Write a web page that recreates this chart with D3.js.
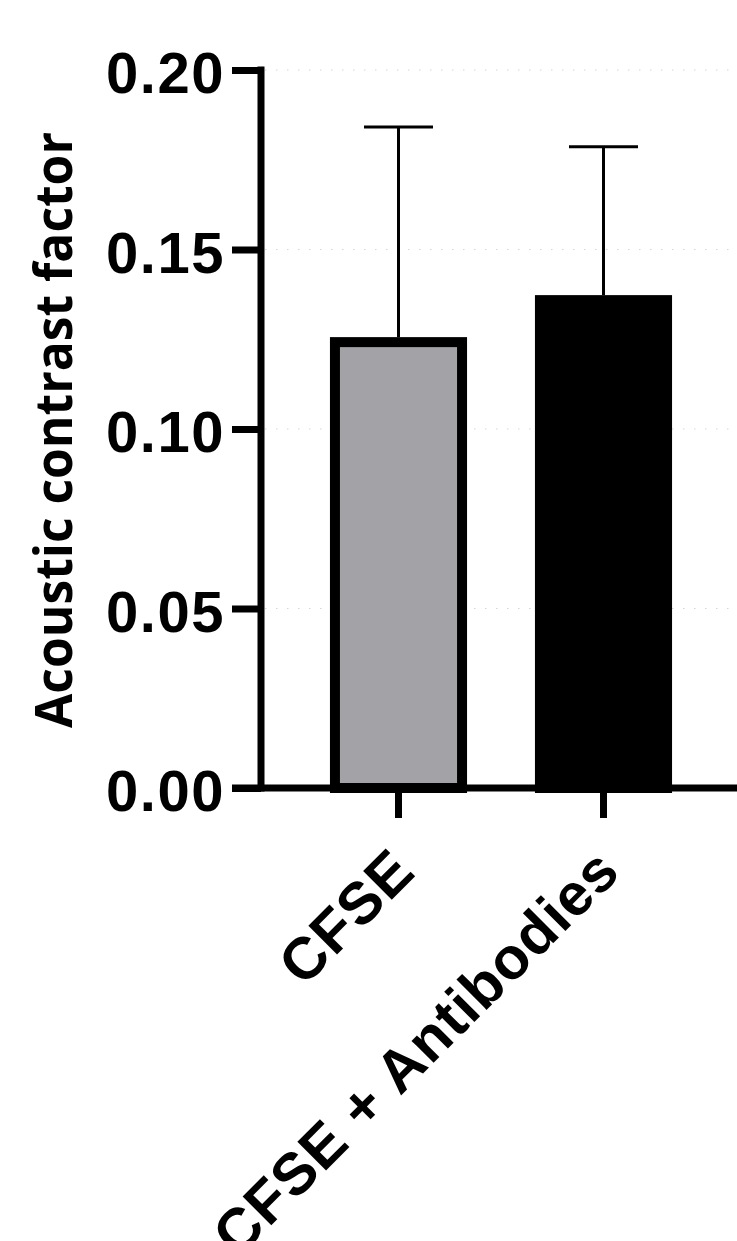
<!DOCTYPE html>
<html>
<head>
<meta charset="utf-8">
<script src="https://cdn.jsdelivr.net/npm/d3@7"></script>
<style>
  body { margin: 0; background: #fff; }
  svg { display: block; }
</style>
</head>
<body>
<div class="container"></div>
<script>
var categories = ['CFSE', 'CFSE + Antibodies'];
var means = [0.1242, 0.1359];
var sds = [0.0599, 0.0427];
var fills = ['#a3a2a7', '#000000'];
var yTicks = [0.00, 0.05, 0.10, 0.15, 0.20];

var w = 737;
var h = 1241;

var data = categories.map(function(c, i) {
  return { name: c, mean: means[i], sd: sds[i], fill: fills[i] };
});

var svg = d3.select('.container')
  .append('svg')
  .attr('width', w)
  .attr('height', h);

var yScale = d3.scaleLinear()
  .domain([0, 0.2])
  .range([788, 70]);

var xScale = d3.scaleBand()
  .domain(categories)
  .range([296, 706])
  .padding(0);

var axisX = 261;
var tickLen = 29;

/* faint dotted gridlines */
svg.append('g')
  .selectAll('line')
  .data(yTicks.slice(1))
  .enter()
  .append('line')
  .attr('x1', axisX + 4)
  .attr('x2', w)
  .attr('y1', function(d) { return yScale(d); })
  .attr('y2', function(d) { return yScale(d); })
  .attr('stroke', '#d6d6d6')
  .attr('stroke-width', 1.2)
  .attr('stroke-dasharray', '1.5,9.5');

/* bars */
var barW = xScale.bandwidth() * 0.62;

svg.append('g')
  .selectAll('rect')
  .data(data)
  .enter()
  .append('rect')
  .attr('x', function(d) { return xScale(d.name) + xScale.bandwidth() / 2 - barW / 2; })
  .attr('y', function(d) { return yScale(d.mean); })
  .attr('width', barW)
  .attr('height', function(d) { return yScale(0) - yScale(d.mean); })
  .attr('fill', function(d) { return d.fill; })
  .attr('stroke', '#000')
  .attr('stroke-width', 10);

/* error bars (upper only) */
var capW = 69;
var err = svg.append('g')
  .selectAll('g')
  .data(data)
  .enter()
  .append('g')
  .attr('stroke', '#000')
  .attr('stroke-width', 3);

err.append('line')
  .attr('x1', function(d) { return xScale(d.name) + xScale.bandwidth() / 2; })
  .attr('x2', function(d) { return xScale(d.name) + xScale.bandwidth() / 2; })
  .attr('y1', function(d) { return yScale(d.mean) - 5; })
  .attr('y2', function(d) { return yScale(d.mean + d.sd); });

err.append('line')
  .attr('x1', function(d) { return xScale(d.name) + xScale.bandwidth() / 2 - capW / 2; })
  .attr('x2', function(d) { return xScale(d.name) + xScale.bandwidth() / 2 + capW / 2; })
  .attr('y1', function(d) { return yScale(d.mean + d.sd); })
  .attr('y2', function(d) { return yScale(d.mean + d.sd); });

/* y axis */
var yAxis = d3.axisLeft(yScale)
  .tickValues(yTicks)
  .tickFormat(d3.format('.2f'))
  .tickSize(tickLen)
  .tickSizeOuter(0)
  .tickPadding(7);

var gy = svg.append('g')
  .attr('transform', 'translate(' + axisX + ',0)')
  .call(yAxis);

gy.select('.domain').remove();
gy.selectAll('.tick line')
  .attr('stroke', '#000')
  .attr('stroke-width', 7);
gy.selectAll('.tick text')
  .attr('fill', '#000')
  .attr('dy', '0.39em')
  .attr('letter-spacing', 1.5)
  .style('font', 'bold 58px "Liberation Sans", Arial, sans-serif');

gy.append('line')
  .attr('x1', 0).attr('x2', 0)
  .attr('y1', yScale(0.2))
  .attr('y2', yScale(0))
  .attr('stroke', '#000')
  .attr('stroke-width', 7)
  .attr('stroke-linecap', 'square');

/* x axis */
var xAxis = d3.axisBottom(xScale)
  .tickSize(30)
  .tickSizeOuter(0);

var gx = svg.append('g')
  .attr('transform', 'translate(0,' + yScale(0) + ')')
  .call(xAxis);

gx.select('.domain').remove();
gx.append('line')
  .attr('x1', axisX - tickLen)
  .attr('x2', w)
  .attr('y1', 0)
  .attr('y2', 0)
  .attr('stroke', '#000')
  .attr('stroke-width', 7);

gx.selectAll('.tick line')
  .attr('stroke', '#000')
  .attr('stroke-width', 7);

gx.selectAll('.tick text')
  .attr('fill', '#000')
  .attr('y', 0)
  .attr('dy', 0)
  .attr('text-anchor', 'end')
  .attr('letter-spacing', 1)
  .attr('transform', 'translate(19,86) rotate(-45)')
  .style('font', 'bold 59px "Liberation Sans", Arial, sans-serif');

/* y axis title */
svg.append('text')
  .attr('transform', 'translate(72,430) rotate(-90)')
  .attr('text-anchor', 'middle')
  .attr('textLength', 596)
  .attr('lengthAdjust', 'spacingAndGlyphs')
  .style('font', 'bold 52px "Open Sans", "Noto Sans", sans-serif')
  .attr('fill', '#000')
  .text('Acoustic contrast factor');
</script>
</body>
</html>
